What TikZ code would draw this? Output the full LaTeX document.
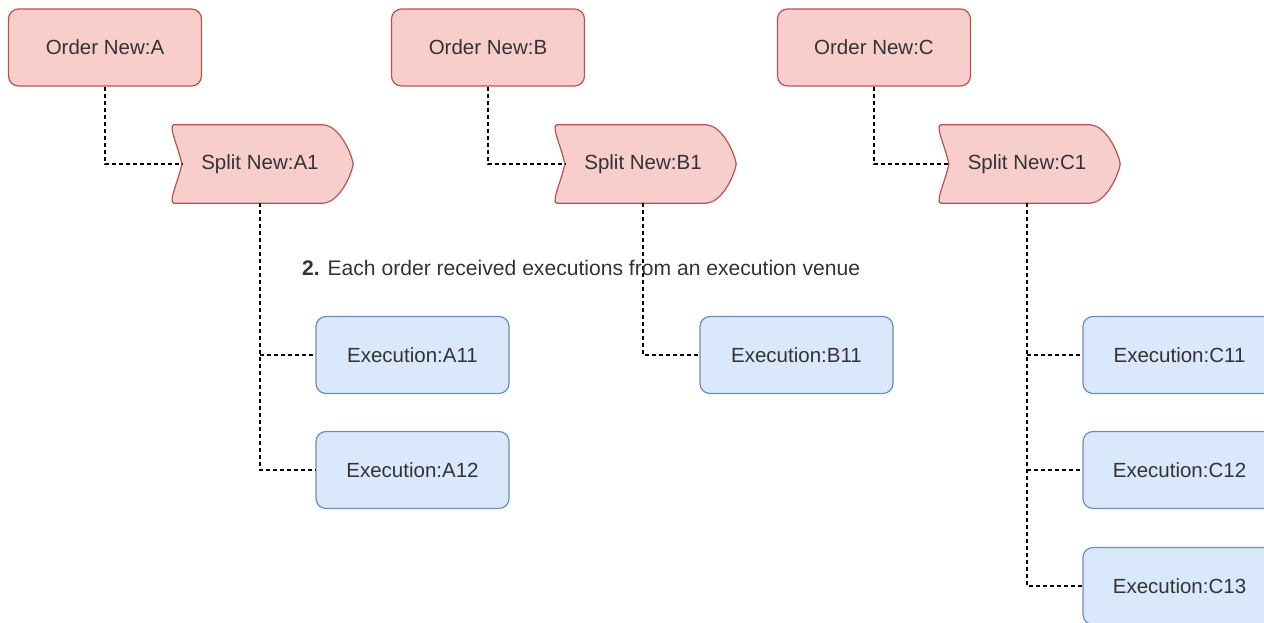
\documentclass[tikz,border=0pt]{standalone}
\usepackage{fontspec}
\setmainfont{Liberation Sans}
\definecolor{redfill}{HTML}{F8CECC}
\definecolor{redline}{HTML}{B85450}
\definecolor{bluefill}{HTML}{DAE8FC}
\definecolor{blueline}{HTML}{6C8EBF}
\definecolor{txt}{HTML}{333333}
\begin{document}
\begin{tikzpicture}[x=1pt,y=-1pt,
  font=\fontsize{20.5}{24}\selectfont,
  orderbox/.style={draw=redline,fill=redfill,rounded corners=10pt,line width=1.2pt,
    minimum width=193pt,minimum height=77pt,text=txt,inner sep=0pt},
  execbox/.style={draw=blueline,fill=bluefill,rounded corners=10pt,line width=1.2pt,
    minimum width=193pt,minimum height=77pt,text=txt,inner sep=0pt},
  splitbox/.style={minimum width=186pt,minimum height=78pt,text=txt,inner sep=0pt},
  link/.style={draw=black,line width=1.4pt,dash pattern=on 4pt off 3pt}]
\useasboundingbox (0,0) rectangle (1264,623);

% outline of a split node: notched left side, bulging right tip
% (shifts are in canvas directions: positive yshift points up)
\newcommand\splitoutline[1]{%
  \path[draw=redline,fill=redfill,line width=1.2pt]
    ([xshift=7pt]#1.north west) -- ([xshift=-30pt]#1.north east)
    .. controls ([xshift=-14pt,yshift=-1pt]#1.north east) and ([xshift=-2pt,yshift=12pt]#1.east) .. (#1.east)
    .. controls ([xshift=-2pt,yshift=-12pt]#1.east) and ([xshift=-14pt,yshift=1pt]#1.south east) .. ([xshift=-30pt]#1.south east)
    -- ([xshift=7pt]#1.south west)
    .. controls ([xshift=1pt,yshift=1pt]#1.south west) and ([xshift=12pt,yshift=-16pt]#1.west) .. ([xshift=15pt]#1.west)
    .. controls ([xshift=12pt,yshift=16pt]#1.west) and ([xshift=1pt,yshift=-1pt]#1.north west) .. ([xshift=7pt]#1.north west)
    -- cycle;}

% orders
\node[orderbox] (ordA) at (105,47.5) {Order New:A};
\node[orderbox] (ordB) at (488,47.5) {Order New:B};
\node[orderbox] (ordC) at (874,47.5) {Order New:C};

% splits
\node[splitbox] (splA) at (260,164) {};
\node[splitbox] (splB) at (643,164) {};
\node[splitbox] (splC) at (1027,164) {};
\splitoutline{splA}
\splitoutline{splB}
\splitoutline{splC}
\node[text=txt] at (splA) {Split New:A1};
\node[text=txt] at (splB) {Split New:B1};
\node[text=txt] at (splC) {Split New:C1};

% executions
\node[execbox] (exA11) at (412.5,355) {Execution:A11};
\node[execbox] (exA12) at (412.5,470) {Execution:A12};
\node[execbox] (exB11) at (796.5,355) {Execution:B11};
\node[execbox] (exC11) at (1179.5,355) {Execution:C11};
\node[execbox] (exC12) at (1179.5,470) {Execution:C12};
\node[execbox] (exC13) at (1179.5,586) {Execution:C13};

% connectors
\draw[link] (ordA.south) |- ([xshift=15pt]splA.west);
\draw[link] (ordB.south) |- ([xshift=15pt]splB.west);
\draw[link] (ordC.south) |- ([xshift=15pt]splC.west);
\draw[link] (splA.south) |- (exA12.west);
\draw[link] (splA.south |- exA11.west) -- (exA11.west);
\draw[link] (splB.south) |- (exB11.west);
\draw[link] (splC.south) |- (exC13.west);
\draw[link] (splC.south |- exC11.west) -- (exC11.west);
\draw[link] (splC.south |- exC12.west) -- (exC12.west);

% caption
\node[anchor=west,text=txt,inner sep=0pt,font=\fontsize{21.1}{25}\selectfont] (note) at (302,268)
  {\textbf{2.} Each order received executions from an execution venue};
\end{tikzpicture}
\end{document}
